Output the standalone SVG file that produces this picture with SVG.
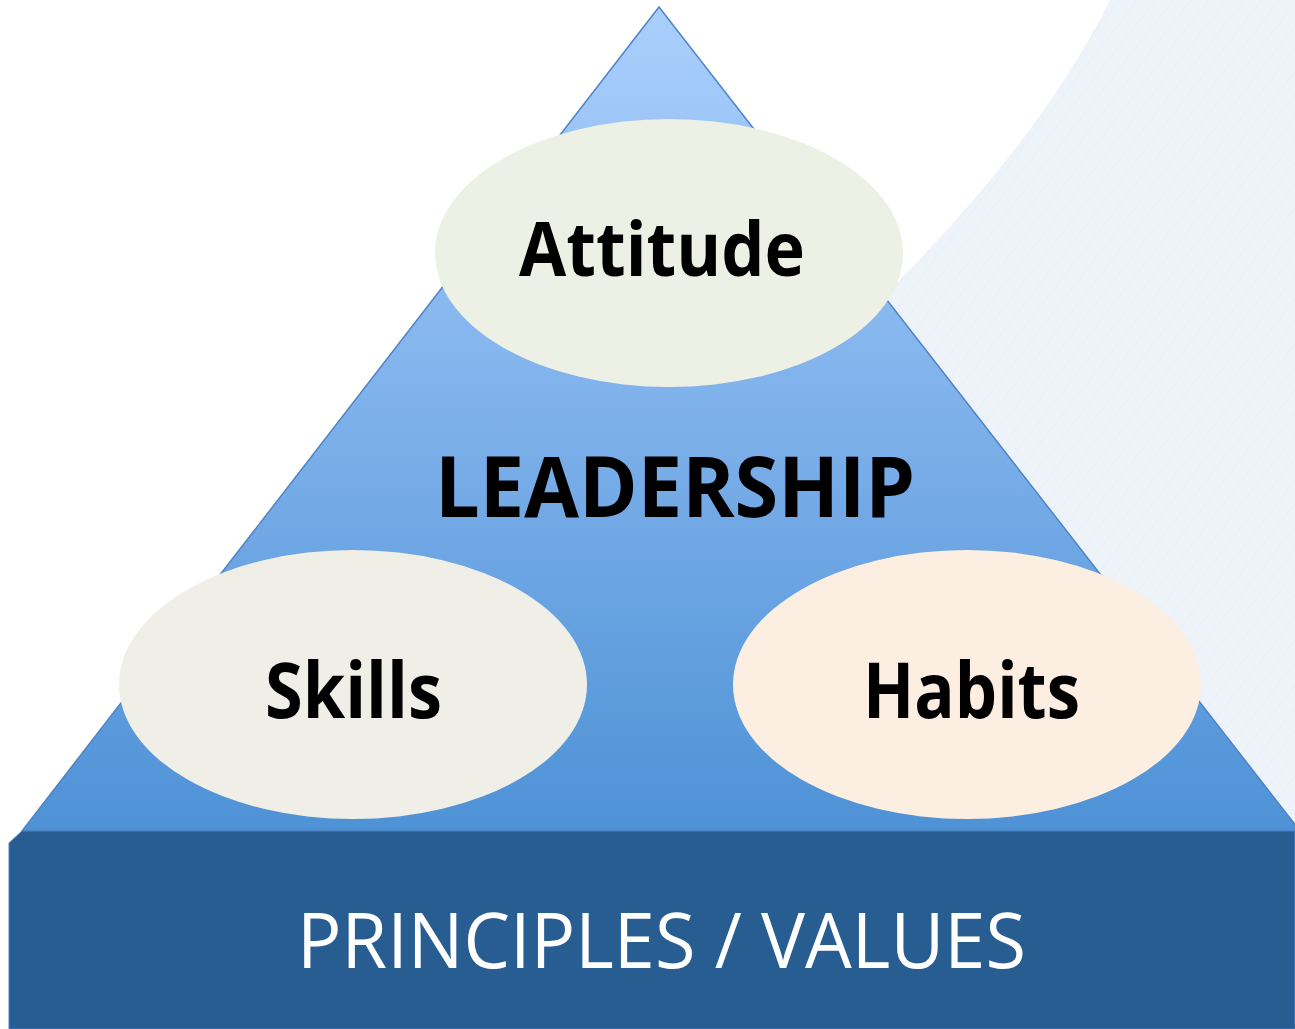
<svg xmlns="http://www.w3.org/2000/svg" width="1295" height="1029" viewBox="0 0 1295 1029">
<defs>
<linearGradient id="tri" gradientUnits="userSpaceOnUse" x1="0" y1="7" x2="0" y2="831">
<stop offset="0" stop-color="#aacffd"/>
<stop offset="0.5" stop-color="#7db0ea"/>
<stop offset="1" stop-color="#4e92d6"/>
</linearGradient>
<pattern id="lines" patternUnits="userSpaceOnUse" width="14" height="14" patternTransform="rotate(38)">
<line x1="0" y1="0" x2="0" y2="14" stroke="#dfe7f1" stroke-width="1.2" opacity="0.6"/>
</pattern>
<style>
.lbl{font-family:"Open Sans","Liberation Sans",sans-serif;font-weight:700;fill:#000}
.base{font-family:"Open Sans","Liberation Sans",sans-serif;font-weight:400;fill:#fff}
</style>
</defs>
<rect width="1295" height="1029" fill="#fff"/>
<g id="background">
<path d="M1110,0 C1060,100 985,195 880,300 L700,500 L700,1029 L1295,1029 L1295,0 Z" fill="#eef3f9"/>
<path d="M1110,0 C1060,100 985,195 880,300 L700,500 L700,1029 L1295,1029 L1295,0 Z" fill="url(#lines)"/>
</g>
<g id="pyramid">
<polygon points="659,7 22,831 1300,831" fill="url(#tri)" stroke="#4f84c4" stroke-width="1.5"/>
</g>
<g id="base-principles">
<polygon points="9,843 22,831 1295,831 1295,1029 9,1029" fill="#285d91" stroke="#4b82c2" stroke-width="1"/>
<text class="base" x="297" y="968" font-size="76" textLength="729" lengthAdjust="spacingAndGlyphs">PRINCIPLES / VALUES</text>
</g>
<g id="node-leadership">
<text class="lbl" x="435" y="517" font-size="84" textLength="480" lengthAdjust="spacingAndGlyphs">LEADERSHIP</text>
</g>
<g id="node-attitude">
<ellipse cx="669" cy="253" rx="234" ry="134" fill="#edf1e5"/>
<text class="lbl" x="519" y="276" font-size="76" textLength="286" lengthAdjust="spacingAndGlyphs">Attitude</text>
</g>
<g id="node-skills">
<ellipse cx="353" cy="684.5" rx="234" ry="134.5" fill="#f0efe7"/>
<text class="lbl" x="265" y="718" font-size="77" textLength="177" lengthAdjust="spacingAndGlyphs">Skills</text>
</g>
<g id="node-habits">
<ellipse cx="967" cy="684.5" rx="234" ry="134.5" fill="#fdeee2"/>
<text class="lbl" x="863" y="718" font-size="77" textLength="217" lengthAdjust="spacingAndGlyphs">Habits</text>
</g>
<g id="connectors"/>
</svg>
